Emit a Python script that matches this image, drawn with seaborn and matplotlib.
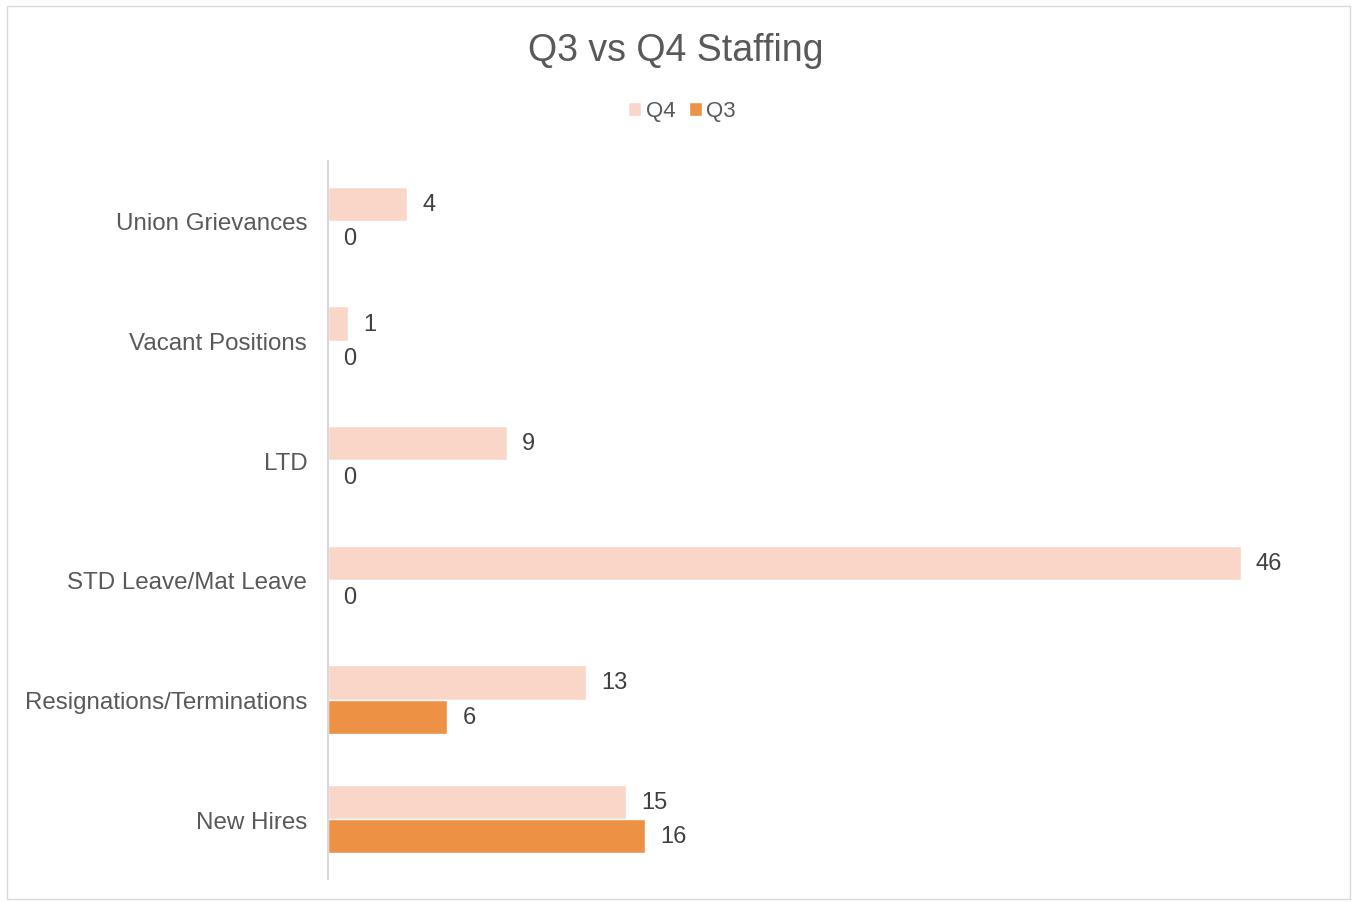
import pandas as pd
import matplotlib.pyplot as plt
import seaborn as sns
from matplotlib.patches import Rectangle

# Data
categories = ['Union Grievances', 'Vacant Positions', 'LTD', 'STD Leave/Mat Leave',
              'Resignations/Terminations', 'New Hires']
q4_values = [4, 1, 9, 46, 13, 15]
q3_values = [0, 0, 0, 0, 6, 16]
series = ['Q4', 'Q3']
colors = {'Q4': '#F9D6C8', 'Q3': '#ED9145'}

df = pd.DataFrame({
    'Category': categories * 2,
    'Quarter': ['Q4'] * len(categories) + ['Q3'] * len(categories),
    'Value': q4_values + q3_values,
})

sns.set_style('white')
plt.rcParams['font.family'] = ['Liberation Sans', 'DejaVu Sans']

fig = plt.figure(figsize=(13.52, 9.03), dpi=100)
ax = fig.add_axes([0.2426, 0.0255, 0.7337, 0.795])

sns.barplot(data=df, y='Category', x='Value', hue='Quarter', order=categories,
            hue_order=series, palette=colors, orient='h', width=0.57,
            saturation=1, errorbar=None, ax=ax)

ax.set_xlim(0, 50)
ax.set_ylim(5.5, -0.5)

# value labels
for cont in ax.containers:
    labels = ax.bar_label(cont, padding=11, fontsize=17, color='#404040')
    for t in labels:
        t.set_y(t.get_position()[1])
        t.set_va('center')

for s in ['top', 'right', 'bottom']:
    ax.spines[s].set_visible(False)
ax.spines['left'].set_color('#D9D9D9')
ax.spines['left'].set_linewidth(1.5)
ax.set_xticks([])
ax.set_xlabel('')
ax.set_ylabel('')
ax.tick_params(axis='y', length=0, pad=15, labelsize=17.4, labelcolor='#595959')

ax.legend(loc='center', bbox_to_anchor=(682 / 1352, 1 - 112 / 903),
          bbox_transform=fig.transFigure, ncol=2, frameon=False, fontsize=16,
          handlelength=0.6, handleheight=0.6, handletextpad=0.2, columnspacing=0.6,
          labelcolor='#595959')

fig.text(0.5, 1 - 51 / 903, 'Q3 vs Q4 Staffing', ha='center', va='center',
         fontsize=27, color='#595959')

# chart border
fig.patches.append(Rectangle((7 / 1352, 3 / 903), 1343 / 1352, 893 / 903,
                             transform=fig.transFigure, fill=False,
                             edgecolor='#D9D9D9', linewidth=1))

fig.savefig('out.png', dpi=100)
